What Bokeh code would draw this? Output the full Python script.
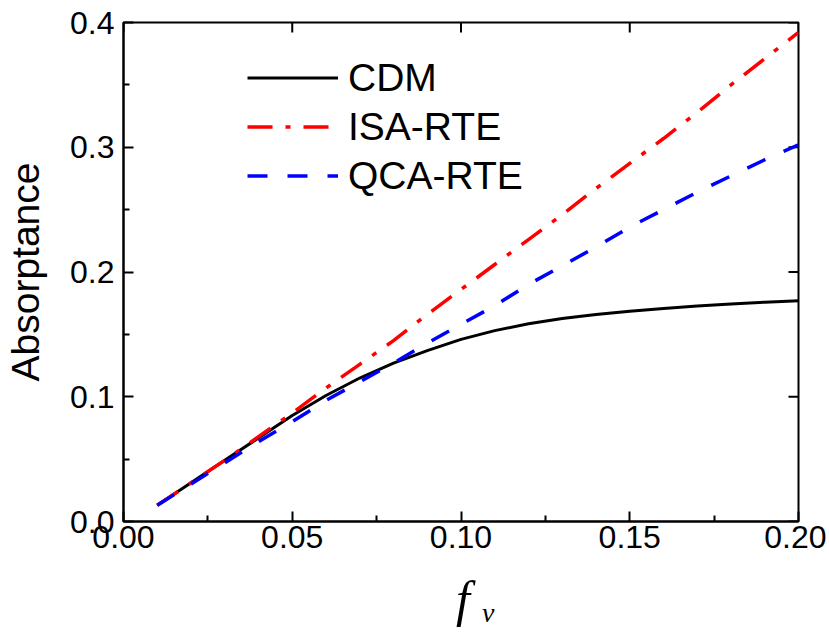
import math
from bokeh.plotting import figure
from bokeh.models import (FixedTicker, Range1d, Legend, LegendItem,
                          NumeralTickFormatter, Div)
from bokeh.layouts import column
from bokeh.embed import file_html
from bokeh.resources import INLINE

# ---- data ----
fv = [0.01, 0.02, 0.03, 0.04, 0.05, 0.06, 0.07, 0.08, 0.09, 0.10,
      0.11, 0.12, 0.13, 0.14, 0.15, 0.16, 0.17, 0.18, 0.19, 0.20]
cdm = [0.013, 0.031, 0.049, 0.067, 0.085, 0.101, 0.115, 0.127, 0.137, 0.146,
       0.153, 0.1585, 0.1627, 0.166, 0.1685, 0.1707, 0.1727, 0.1744, 0.1758, 0.177]
isa_rte = [0.013, 0.031, 0.049, 0.068, 0.087, 0.107, 0.126, 0.145, 0.166, 0.186,
           0.206, 0.226, 0.246, 0.267, 0.287, 0.307, 0.328, 0.350, 0.371, 0.392]
qca_rte = [0.013, 0.030, 0.047, 0.064, 0.080, 0.097, 0.112, 0.127, 0.143, 0.158,
           0.173, 0.190, 0.205, 0.220, 0.236, 0.250, 0.264, 0.277, 0.290, 0.302]
series_names = ["CDM", "ISA-RTE", "QCA-RTE"]
x_ticks = [0.00, 0.05, 0.10, 0.15, 0.20]
x_minor = [0.025, 0.075, 0.125, 0.175]
y_ticks = [0.0, 0.1, 0.2, 0.3, 0.4]
y_minor = [0.05, 0.15, 0.25, 0.35]
x_min, x_max = 0.0, 0.2
y_min, y_max = 0.0, 0.4
y_label = "Absorptance"
x_label_main = "f"
x_label_sub = "v"

FONT = "Liberation Sans"
W = 826

p = figure(width=W, height=571, x_range=Range1d(x_min, x_max), y_range=Range1d(y_min, y_max),
           output_backend="svg", toolbar_location=None,
           min_border_left=123, min_border_right=W - 123 - 675,
           min_border_top=22, min_border_bottom=50)
p.xgrid.visible = False
p.ygrid.visible = False
p.outline_line_color = "black"
p.outline_line_width = 2
p.background_fill_color = "white"
p.border_fill_color = "white"


def style_axis(ax):
    ax.axis_line_width = 2
    ax.axis_line_color = "black"
    ax.major_tick_line_width = 2
    ax.major_tick_line_color = "black"
    ax.major_tick_in = 10
    ax.major_tick_out = 0
    ax.minor_tick_line_width = 2
    ax.minor_tick_line_color = "black"
    ax.minor_tick_in = 6
    ax.minor_tick_out = 0
    ax.major_label_text_font = FONT
    ax.major_label_text_font_size = "32px"
    ax.major_label_text_color = "black"


xax = p.xaxis[0]
xax.ticker = FixedTicker(ticks=x_ticks, minor_ticks=x_minor)
xax.formatter = NumeralTickFormatter(format="0.00")
style_axis(xax)
xax.major_label_standoff = 4

yax = p.yaxis[0]
yax.ticker = FixedTicker(ticks=y_ticks, minor_ticks=y_minor)
yax.formatter = NumeralTickFormatter(format="0.0")
style_axis(yax)
yax.major_label_standoff = 9
yax.axis_label = y_label
yax.axis_label_text_font = FONT
yax.axis_label_text_font_size = "39px"
yax.axis_label_text_font_style = "normal"
yax.axis_label_text_color = "black"
yax.axis_label_standoff = 20

# inward major ticks on the top and right edges of the frame
p.ray(x=x_ticks, y=[y_max] * len(x_ticks), length=10, length_units="screen",
      angle=-math.pi / 2, line_color="black", line_width=2)
p.ray(x=[x_max] * len(y_ticks), y=y_ticks, length=10, length_units="screen",
      angle=math.pi, line_color="black", line_width=2)

r_cdm = p.line(fv, cdm, line_color="black", line_width=3)
r_isa = p.line(fv, isa_rte, line_color="#ff0000", line_width=3.5, line_dash="25 13 5 13")
r_qca = p.line(fv, qca_rte, line_color="#0000ff", line_width=3.5, line_dash="20 20")

legend = Legend(items=[LegendItem(label=series_names[0], renderers=[r_cdm]),
                       LegendItem(label=series_names[1], renderers=[r_isa]),
                       LegendItem(label=series_names[2], renderers=[r_qca])],
                location=(124, 321), padding=0, margin=0, spacing=0,
                glyph_width=91, glyph_height=49, label_height=49, label_standoff=10,
                label_text_font=FONT, label_text_font_size="39px",
                label_text_color="black",
                border_line_color=None, background_fill_alpha=0)
p.add_layout(legend, "center")

# x-axis title: italic f with subscript v, as HTML text below the plot
DIV_H = 60
xlabel_html = (
    '<div style="height:%dpx; width:%dpx;">'
    '<div style="position:relative; left:456px; top:3px; font-family:\'Liberation Serif\', serif; '
    'font-style:italic; font-size:50px; line-height:50px; color:black; white-space:nowrap;">'
    '%s<span style="font-size:28px; position:relative; top:6px; left:12px;">%s</span>'
    '</div></div>' % (DIV_H, W, x_label_main, x_label_sub)
)
div = Div(text=xlabel_html, width=W, height=DIV_H, margin=(0, 0, 0, 0))

layout = column(p, div, spacing=0)
open("out.html", "w").write(file_html(layout, INLINE))
